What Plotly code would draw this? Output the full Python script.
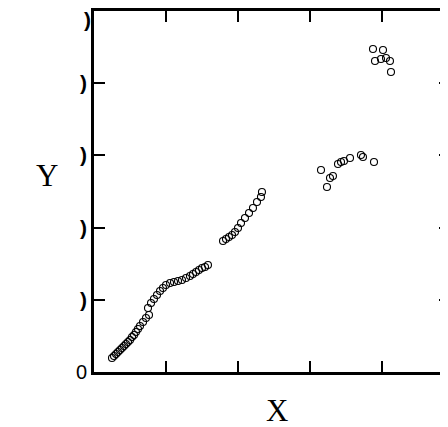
import plotly.graph_objects as go

# Data (axis units: 0..5 on both axes)
x_vals = [
    0.250, 0.278, 0.306, 0.333, 0.361, 0.389, 0.417, 0.444, 0.472, 0.500,
    0.528, 0.556, 0.583, 0.611, 0.639, 0.681, 0.722, 0.764,
    0.750, 0.792, 0.833, 0.875, 0.917, 0.958, 1.000,
    1.056, 1.111, 1.167, 1.222, 1.278,
    1.333, 1.375, 1.417, 1.458, 1.500, 1.542, 1.583,
    1.792, 1.833, 1.875, 1.917, 1.958, 2.000, 2.042, 2.097, 2.153, 2.208, 2.264, 2.319, 2.333,
    3.153, 3.236, 3.278, 3.319, 3.389, 3.431, 3.472, 3.556, 3.708, 3.736, 3.889,
    3.875, 4.014, 3.903, 3.986, 4.056, 4.111, 4.125,
]
y_vals = [
    0.194, 0.222, 0.249, 0.277, 0.305, 0.332, 0.360, 0.388, 0.416, 0.443,
    0.485, 0.512, 0.554, 0.596, 0.637, 0.693, 0.748, 0.789,
    0.886, 0.956, 1.011, 1.066, 1.122, 1.163, 1.205,
    1.233, 1.247, 1.260, 1.274, 1.302,
    1.330, 1.357, 1.385, 1.413, 1.440, 1.454, 1.482,
    1.814, 1.842, 1.870, 1.898, 1.939, 1.994, 2.064, 2.133, 2.202, 2.271, 2.355, 2.424, 2.493,
    2.798, 2.562, 2.687, 2.715, 2.881, 2.909, 2.922, 2.964, 3.006, 2.978, 2.909,
    4.474, 4.460, 4.307, 4.335, 4.349, 4.307, 4.155,
]

x_ticks = [1, 2, 3, 4]
y_ticks = [0, 1, 2, 3, 4, 5]
paren = "<span style='font-size:21px'><b>)</b></span>"
y_tick_text = ["0", paren, paren, paren, paren, paren]
x_title = "X"
y_title = "Y"

fig = go.Figure()
fig.add_trace(go.Scatter(
    x=x_vals, y=y_vals, mode="markers",
    marker=dict(symbol="circle-open", size=7, color="black", line=dict(width=1.1)),
    showlegend=False, hoverinfo="skip",
))
fig.add_trace(go.Scatter(x=[], y=[], yaxis="y2", showlegend=False))

fig.update_layout(
    width=440, height=419,
    margin=dict(l=86, r=0, t=3, b=55),
    paper_bgcolor="white", plot_bgcolor="white",
    xaxis=dict(
        range=[0, 4.917], showgrid=False, zeroline=False,
        showline=True, linecolor="black", linewidth=3, mirror="ticks",
        ticks="inside", ticklen=11, tickwidth=1.5, tickcolor="black",
        tickvals=x_ticks, showticklabels=False, automargin=False,
    ),
    yaxis=dict(
        range=[0, 5], showgrid=False, zeroline=False,
        showline=True, linecolor="black", linewidth=3, mirror=False,
        ticks="inside", ticklen=11, tickwidth=1.5, tickcolor="black",
        tickvals=y_ticks, ticktext=y_tick_text,
        tickfont=dict(family="Liberation Sans, Arial, sans-serif", size=20, color="black"),
        automargin=False,
    ),
    yaxis2=dict(
        range=[0, 5], overlaying="y", side="right", showgrid=False, zeroline=False,
        showline=False, ticks="inside", ticklen=9, tickwidth=1.5, tickcolor="black",
        tickvals=[1, 2, 3, 4], showticklabels=False, automargin=False,
    ),
    annotations=[
        dict(text=x_title, xref="paper", yref="paper", x=0.517, y=-0.108,
             xanchor="center", yanchor="middle", showarrow=False,
             font=dict(family="Liberation Serif, Times New Roman, serif", size=31, color="black")),
        dict(text=y_title, xref="paper", yref="paper", x=-0.133, y=0.543,
             xanchor="center", yanchor="middle", showarrow=False,
             font=dict(family="Liberation Serif, Times New Roman, serif", size=31, color="black")),
        dict(text="<b>)</b>", xref="paper", yref="paper", x=-0.004, y=1.0,
             xanchor="right", yanchor="top", yshift=5, showarrow=False,
             font=dict(family="Liberation Sans, Arial, sans-serif", size=21, color="black")),
    ],
)

fig.write_html("out.html")
